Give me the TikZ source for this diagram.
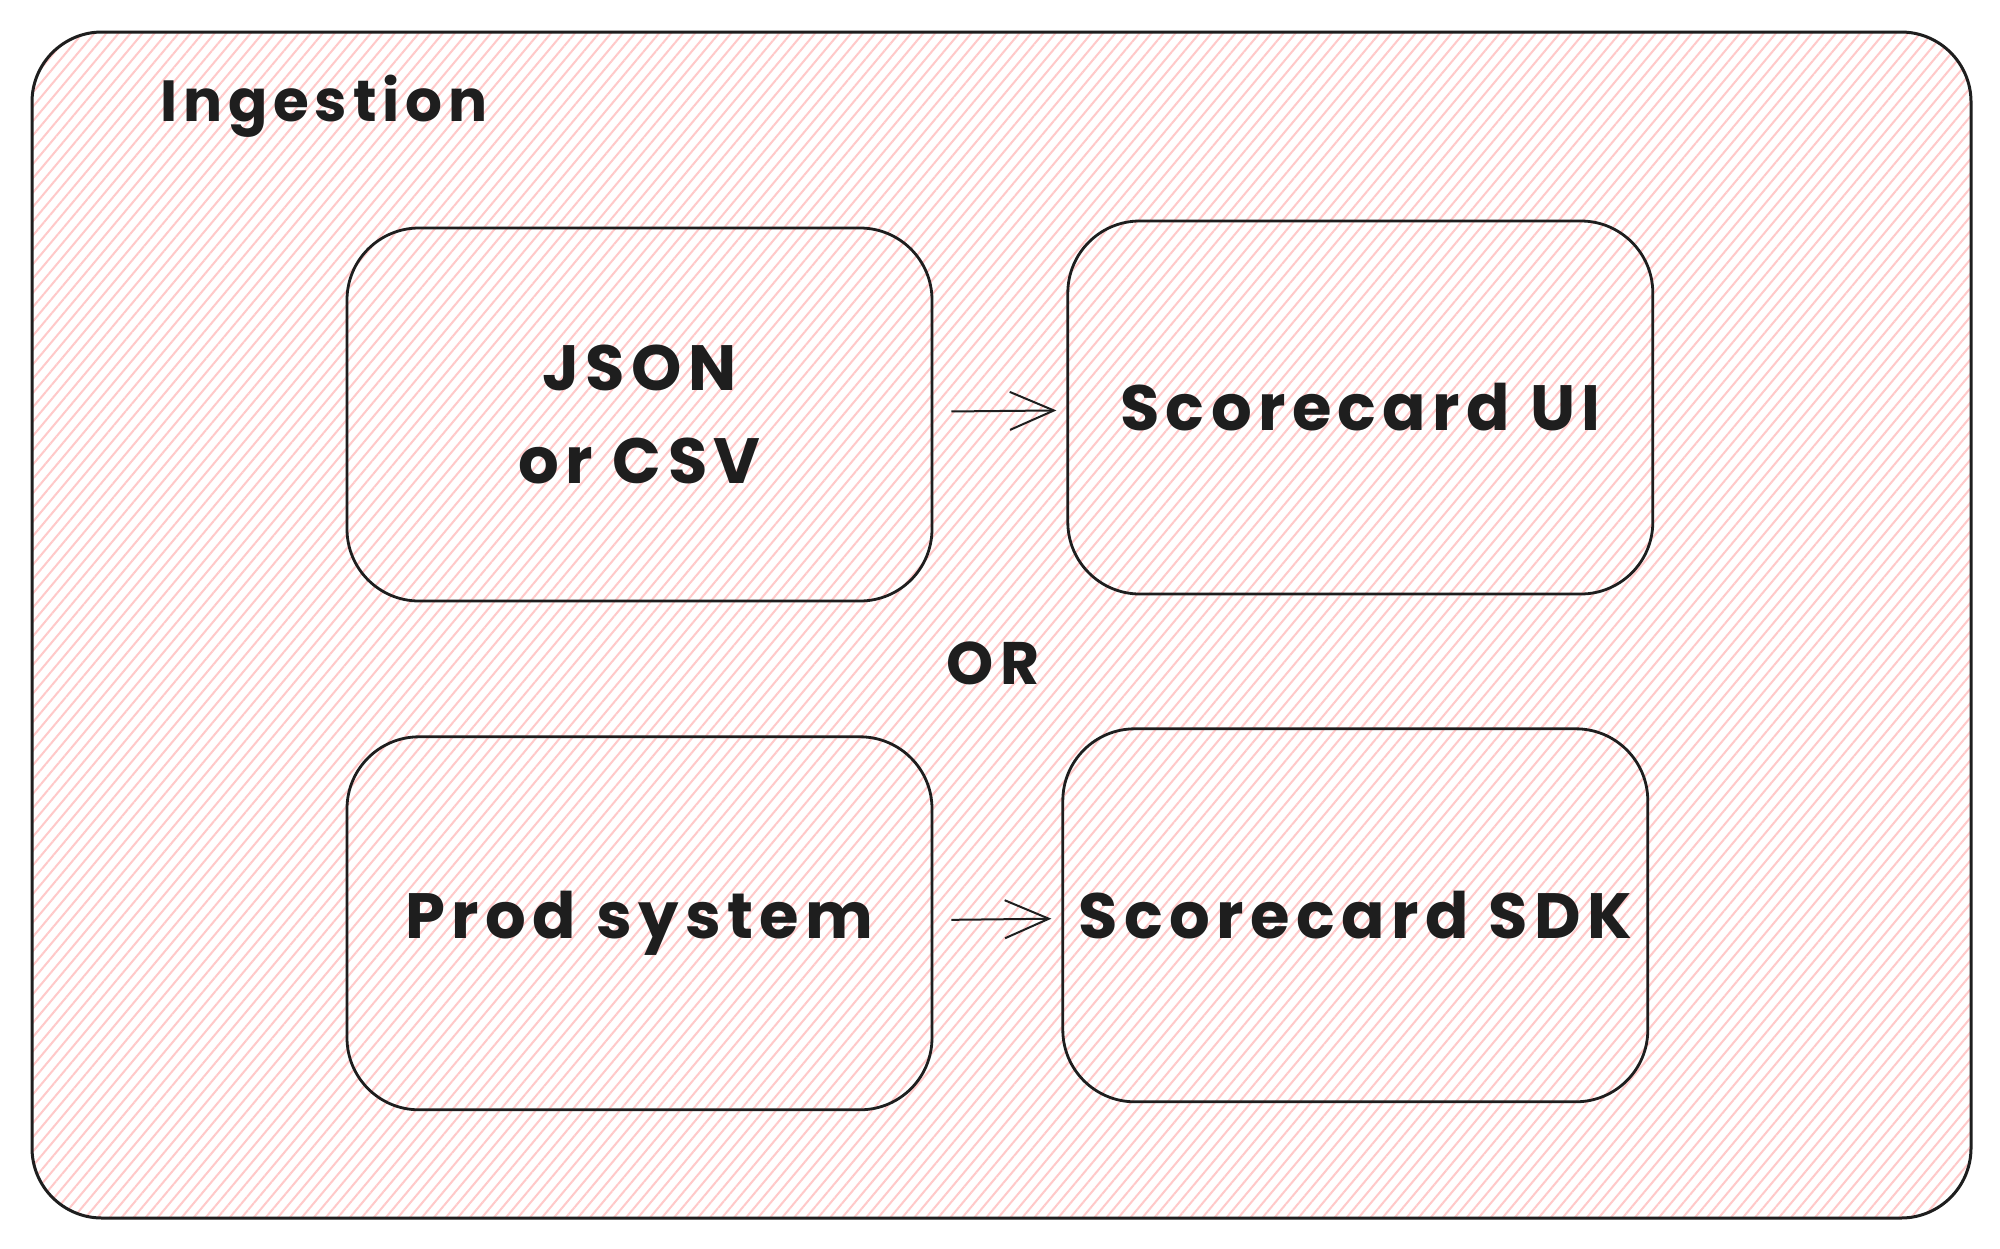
\documentclass[tikz,border=0pt]{standalone}
\usepackage{fontspec}
\setmainfont{Poppins}
\usetikzlibrary{positioning,arrows.meta,patterns.meta}
\definecolor{ink}{HTML}{1E1E1E}
\definecolor{hatch}{HTML}{FFC9C9}

\begin{document}
\begin{tikzpicture}[x=0.5pt,y=-0.5pt,
    node distance=66.5pt,
    frame/.style={draw=ink,line width=1.5pt,rounded corners=35pt,
                  pattern={Lines[angle=50,distance=4.6pt,line width=1pt]},pattern color=hatch,
                  minimum width=969.5pt,minimum height=593pt},
    block/.style={draw=ink,line width=1.4pt,rounded corners=36pt,align=center,
                  font=\bfseries\fontsize{32}{46.5}\selectfont\addfontfeature{LetterSpace=10},text=ink,
                  minimum width=292.5pt,minimum height=186.5pt,inner sep=0pt},
    caption/.style={font=\bfseries\fontsize{29}{34}\selectfont\addfontfeature{LetterSpace=10},
                    text=ink,inner sep=0pt},
    arr/.style={-{Straight Barb[length=22pt,width=19pt,line width=1pt]},line width=1pt,ink,
                shorten <=9pt,shorten >=5pt}]
    \fill[white] (0,0) rectangle (2000,1248);
    \node[frame] (ingest) at (1001.5,625) {};
    \node[caption,anchor=west] (title) at (160,106) {Ingestion};
    \node[block] (json) at (639.5,414.5) {JSON\\or CSV};
    \node[block,right=of json,yshift=3.5pt] (ui) {Scorecard UI};
    \node[block,below=of json] (prod) {Prod system};
    \node[block,right=64pt of prod,yshift=4pt] (sdk) {Scorecard SDK};
    \node[caption,font=\bfseries\fontsize{30}{34}\selectfont\addfontfeature{LetterSpace=10}] (or) at (993,663) {OR};
    \draw[arr] (json)--(ui); \draw[arr] (prod)--(sdk);
  \end{tikzpicture}
\end{document}
